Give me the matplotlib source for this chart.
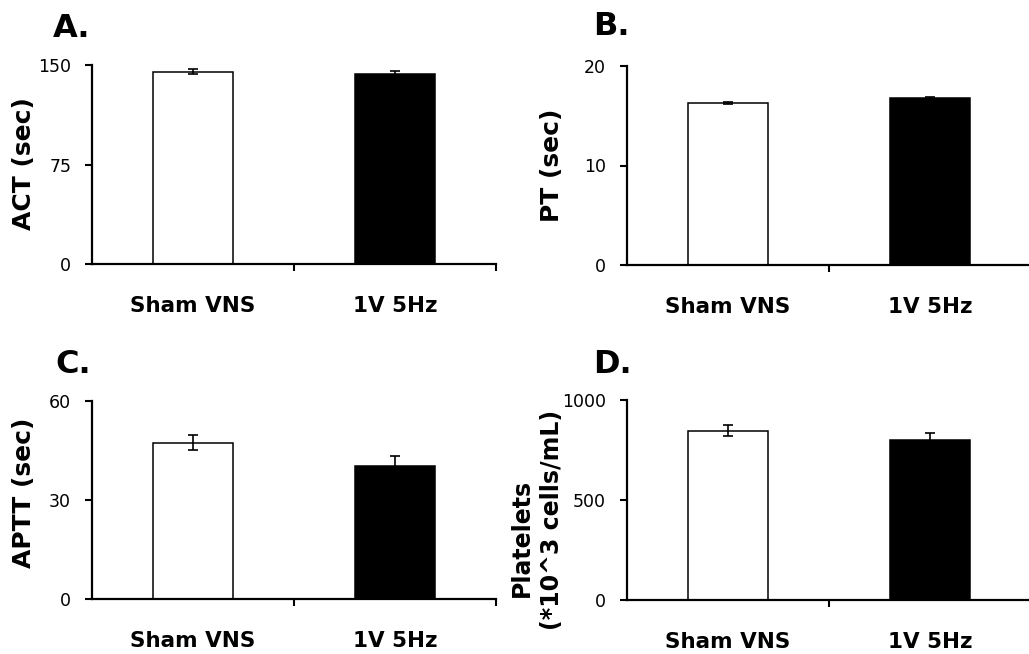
import matplotlib.pyplot as plt

W, H = 1029, 654

# data
groups = ['Sham VNS', '1V 5Hz']
act_mean = [145.0, 143.2]
act_err = [2.0, 2.5]
pt_mean = [16.3, 16.8]
pt_err = [0.1, 0.1]
aptt_mean = [47.4, 40.3]
aptt_err = [2.3, 2.9]
plt_mean = [847, 800]
plt_err = [26, 35]

panels = [
    # letter, means, errs, ymax, yticks, axes box in px (left, top, right, bottom)
    ('A.', act_mean, act_err, 150, [0, 75, 150], (92, 65, 496, 264)),
    ('B.', pt_mean, pt_err, 20, [0, 10, 20], (627, 66, 1031, 265)),
    ('C.', aptt_mean, aptt_err, 60, [0, 30, 60], (92, 401, 496, 599)),
    ('D.', plt_mean, plt_err, 1000, [0, 500, 1000], (627, 400, 1031, 600)),
]
letter_pos = [(53, 37), (593, 35), (55, 373), (593, 373)]

fig = plt.figure(figsize=(W / 100, H / 100), dpi=100)

for (letter, means, errs, ymax, yticks, box), (lx, ly) in zip(panels, letter_pos):
    l, t, r, b = box
    ax = fig.add_axes([l / W, 1 - b / H, (r - l) / W, (b - t) / H])
    ax.bar([0.5, 1.5], means, width=0.4, color=['white', 'black'],
           edgecolor='black', linewidth=1.1, zorder=2)
    ax.errorbar([0.5, 1.5], means, yerr=errs, fmt='none', ecolor='black',
                elinewidth=1.2, capsize=3.5, capthick=1.2, zorder=3)
    ax.set_xlim(0, 2)
    ax.set_ylim(0, ymax)
    ax.set_yticks(yticks)
    ax.set_xticks([0.5, 1.5])
    ax.set_xticklabels(groups, fontsize=15.5, fontweight='bold')
    ax.set_xticks([1, 2], minor=True)
    ax.tick_params(axis='x', which='major', length=0, pad=23)
    ax.tick_params(axis='x', which='minor', length=5, width=1.5, direction='out')
    ax.tick_params(axis='y', length=5, width=1.5, direction='out', pad=10,
                   labelsize=12.5)
    for s in ['top', 'right']:
        ax.spines[s].set_visible(False)
    for s in ['left', 'bottom']:
        ax.spines[s].set_linewidth(1.6)
    ax.patch.set_alpha(0)
    fig.text(lx / W, 1 - ly / H, letter, fontsize=23, fontweight='bold',
             ha='left', va='baseline')

# y labels
def ylab(x, y, s, size=18):
    fig.text(x / W, 1 - y / H, s, rotation=90, ha='center', va='center',
             fontsize=size, fontweight='bold')

ylab(24, 164, 'ACT (sec)')
ylab(552, 165, 'PT (sec)')
ylab(24, 493, 'APTT (sec)')
ylab(522, 538, 'Platelets', size=17)
ylab(552, 520, '(*10^3 cells/mL)', size=17)

fig.savefig('out.png', dpi=100)
